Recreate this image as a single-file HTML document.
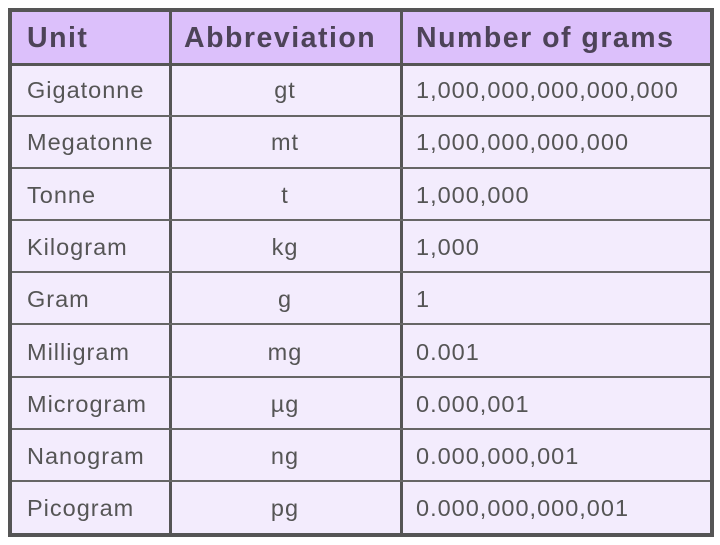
<!DOCTYPE html>
<html><head><style>
body{margin:0;width:720px;height:545px;background:#fff;position:relative;overflow:hidden;font-family:"Liberation Sans",sans-serif;}
.t{position:absolute;left:8px;top:8px;width:698px;height:521px;border:4px solid #555;background:#f3ecfd;}
.h{position:absolute;left:0;top:0;width:698px;height:51px;background:#dcc0fb;border-bottom:3px solid #555;}
.v{position:absolute;top:0;width:3px;height:521px;background:#555;}
.r{position:absolute;left:0;width:698px;height:2px;background:#666;}
.c{position:absolute;font-size:23.5px;letter-spacing:1px;color:#555;white-space:nowrap;line-height:26px;}
.hc{position:absolute;font-size:28.5px;letter-spacing:1.5px;font-weight:bold;color:#4d4358;top:11px;line-height:30px;white-space:nowrap;}
</style></head><body>
<div class="t">
<div class="h"></div>
<div class="v" style="left:157px"></div>
<div class="v" style="left:388px"></div>
<div class="r" style="top:103px"></div>
<div class="r" style="top:155px"></div>
<div class="r" style="top:207px"></div>
<div class="r" style="top:259px"></div>
<div class="r" style="top:311px"></div>
<div class="r" style="top:364px"></div>
<div class="r" style="top:416px"></div>
<div class="r" style="top:468px"></div>
<div class="hc" style="left:15px">Unit</div>
<div class="hc" style="left:172px">Abbreviation</div>
<div class="hc" style="left:404px">Number of grams</div>
</div>
<div id="rows"></div>
<script>
var d=[["Gigatonne","gt","1,000,000,000,000,000"],["Megatonne","mt","1,000,000,000,000"],["Tonne","t","1,000,000"],["Kilogram","kg","1,000"],["Gram","g","1"],["Milligram","mg","0.001"],["Microgram","µg","0.000,001"],["Nanogram","ng","0.000,000,001"],["Picogram","pg","0.000,000,000,001"]];
var h="";
for(var i=0;i<d.length;i++){var y=77+i*52.3;
h+='<div class="c" style="left:27px;top:'+y+'px">'+d[i][0]+'</div>';
h+='<div class="c" style="left:171px;width:228px;text-align:center;top:'+y+'px">'+d[i][1]+'</div>';
h+='<div class="c" style="left:416px;top:'+y+'px">'+d[i][2]+'</div>';}
document.getElementById("rows").innerHTML=h;
</script>
</body></html>
